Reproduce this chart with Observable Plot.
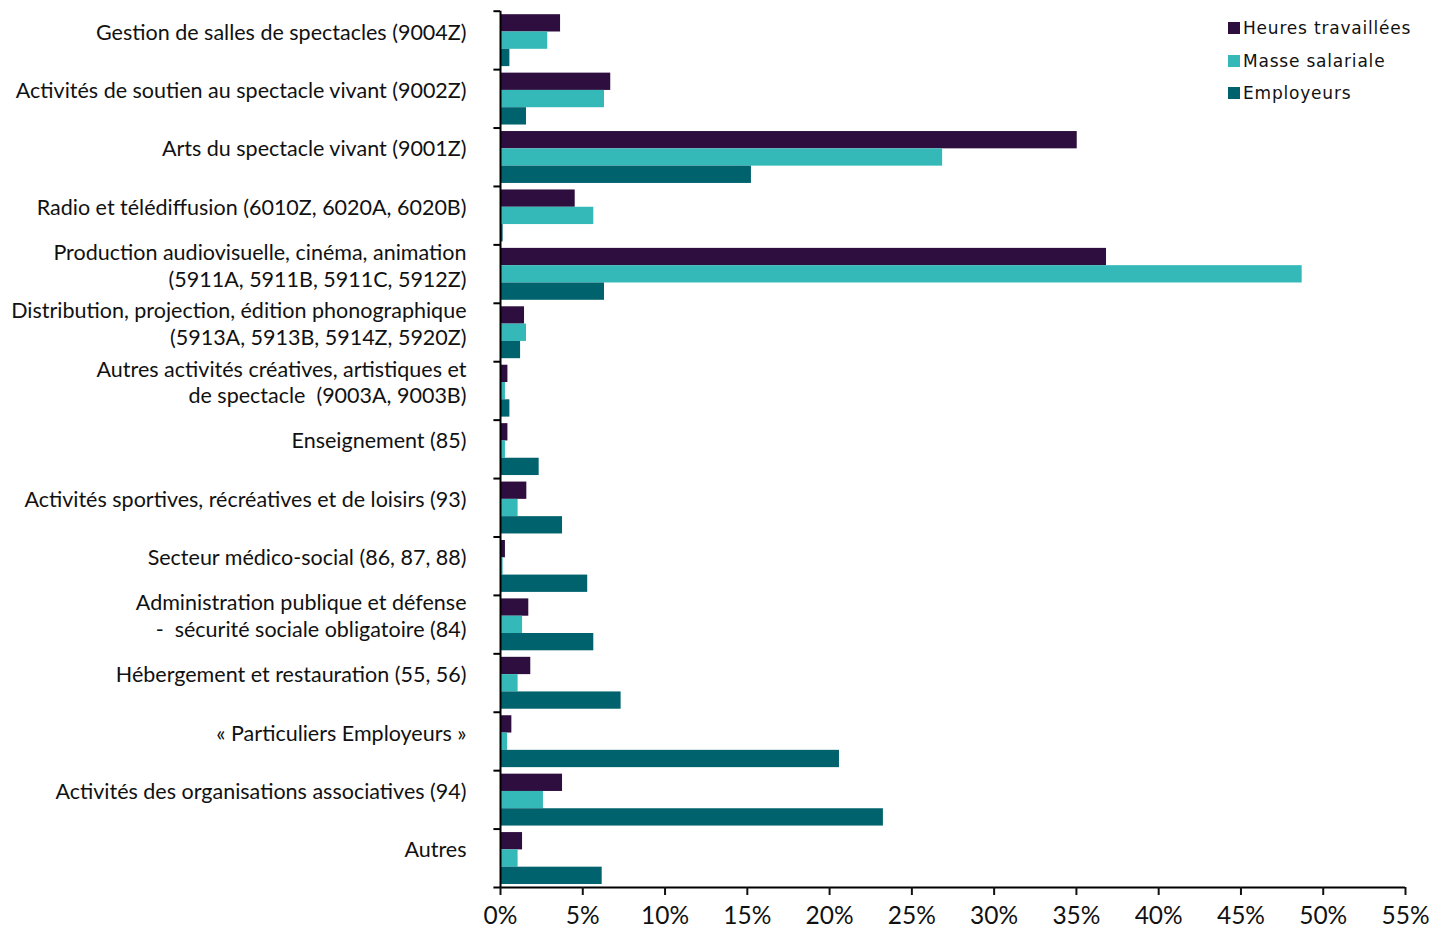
<!DOCTYPE html>
<html><head><meta charset="utf-8">
<script src="https://cdn.jsdelivr.net/npm/d3@7"></script>
<script src="https://cdn.jsdelivr.net/npm/@observablehq/plot@0.6"></script>
<style>
body{margin:0;background:#fff}
#wrap{position:relative;width:1434px;height:929px}
#legend{position:absolute;left:1228px;top:12px;font-family:"DejaVu Sans",Verdana,sans-serif;font-size:17px;letter-spacing:0.8px;color:#111}
#legend .it{display:flex;align-items:center;height:32.5px;white-space:nowrap}
#legend .sw{width:12px;height:12px;margin-right:3px}
</style></head>
<body><div id="wrap"><div id="chart"></div><div id="legend"></div></div>
<script>
const categories = [
  "Gestion de salles de spectacles (9004Z)",
  "Activités de soutien au spectacle vivant (9002Z)",
  "Arts du spectacle vivant (9001Z)",
  "Radio et télédiffusion (6010Z, 6020A, 6020B)",
  "Production audiovisuelle, cinéma, animation (5911A, 5911B, 5911C, 5912Z)",
  "Distribution, projection, édition phonographique (5913A, 5913B, 5914Z, 5920Z)",
  "Autres activités créatives, artistiques et de spectacle (9003A, 9003B)",
  "Enseignement (85)",
  "Activités sportives, récréatives et de loisirs (93)",
  "Secteur médico-social (86, 87, 88)",
  "Administration publique et défense - sécurité sociale obligatoire (84)",
  "Hébergement et restauration (55, 56)",
  "« Particuliers Employeurs »",
  "Activités des organisations associatives (94)",
  "Autres"
];
const tickLabels = [
  "Gestion de salles de spectacles (9004Z)",
  "Activités de soutien au spectacle vivant (9002Z)",
  "Arts du spectacle vivant (9001Z)",
  "Radio et télédiffusion (6010Z, 6020A, 6020B)",
  "Production audiovisuelle, cinéma, animation\n(5911A, 5911B, 5911C, 5912Z)",
  "Distribution, projection, édition phonographique\n(5913A, 5913B, 5914Z, 5920Z)",
  "Autres activités créatives, artistiques et\nde spectacle  (9003A, 9003B)",
  "Enseignement (85)",
  "Activités sportives, récréatives et de loisirs (93)",
  "Secteur médico-social (86, 87, 88)",
  "Administration publique et défense\n-  sécurité sociale obligatoire (84)",
  "Hébergement et restauration (55, 56)",
  "« Particuliers Employeurs »",
  "Activités des organisations associatives (94)",
  "Autres"
];
const seriesNames = ["Heures travaillées", "Masse salariale", "Employeurs"];
const seriesColors = ["#2E0E3E", "#34B8B8", "#00626D"];
const heures     = [3.65, 6.7, 35.05, 4.54, 36.83, 1.46, 0.45, 0.45, 1.6, 0.3, 1.72, 1.84, 0.69, 3.77, 1.34];
const masse      = [2.87, 6.32, 26.87, 5.67, 48.72, 1.58, 0.30, 0.30, 1.07, 0.16, 1.34, 1.07, 0.43, 2.61, 1.07];
const employeurs = [0.57, 1.58, 15.25, 0.16, 6.32, 1.22, 0.57, 2.35, 3.77, 5.3, 5.67, 7.33, 20.6, 23.27, 6.18];
const xTicks = [0, 5, 10, 15, 20, 25, 30, 35, 40, 45, 50, 55];

const seriesValues = [heures, masse, employeurs];
const rows = [];
categories.forEach((c, i) => seriesValues.forEach((vals, s) => rows.push({cat: c, series: seriesNames[s], value: vals[i]})));

const W = 1434, H = 929, mTop = 10.7, mBottom = 42, mLeft = 500, mRight = 29;
const step = (H - mTop - mBottom) / categories.length;
const gapTop = 3.5, barH = 17.3;

const barMarks = seriesNames.map((name, s) =>
  Plot.barX(rows.filter(r => r.series === name), {
    x: "value", y: "cat", fill: seriesColors[s],
    insetTop: gapTop + s * barH,
    insetBottom: step - gapTop - (s + 1) * barH
  })
);

const chart = Plot.plot({
  width: W, height: H,
  marginLeft: mLeft, marginRight: mRight, marginTop: mTop, marginBottom: mBottom,
  style: {fontFamily: "Lato", background: "white", color: "#111"},
  x: {domain: [0, 55]},
  y: {domain: categories, padding: 0, round: false},
  marks: [
    ...barMarks,
    Plot.ruleY(categories, {y: d => d, x1: -0.4, x2: 0, dy: -step / 2, stroke: "black", strokeWidth: 2}),
    Plot.ruleY([categories[categories.length - 1]], {y: d => d, x1: -0.4, x2: 0, dy: step / 2, stroke: "black", strokeWidth: 2}),
    Plot.ruleX([0], {stroke: "black", strokeWidth: 2}),
    Plot.ruleY([categories[categories.length - 1]], {y: d => d, dy: step / 2, stroke: "black", strokeWidth: 2}),
    Plot.axisX({ticks: xTicks, tickFormat: d => d + "%", tickSize: 8, tickPadding: 11, fontSize: 24.5, strokeWidth: 2, label: null}),
    Plot.axisY({tickSize: 0, tickPadding: 34, fontSize: 21.5, dy: -9.5, lineHeight: 1.25, label: null,
      tickFormat: d => tickLabels[categories.indexOf(d)]})
  ]
});
document.getElementById("chart").appendChild(chart);

const leg = document.getElementById("legend");
seriesNames.forEach((n, i) => {
  const it = document.createElement("div"); it.className = "it";
  const sw = document.createElement("div"); sw.className = "sw"; sw.style.background = seriesColors[i];
  const tx = document.createElement("span"); tx.textContent = n;
  it.appendChild(sw); it.appendChild(tx); leg.appendChild(it);
});
</script></body></html>
